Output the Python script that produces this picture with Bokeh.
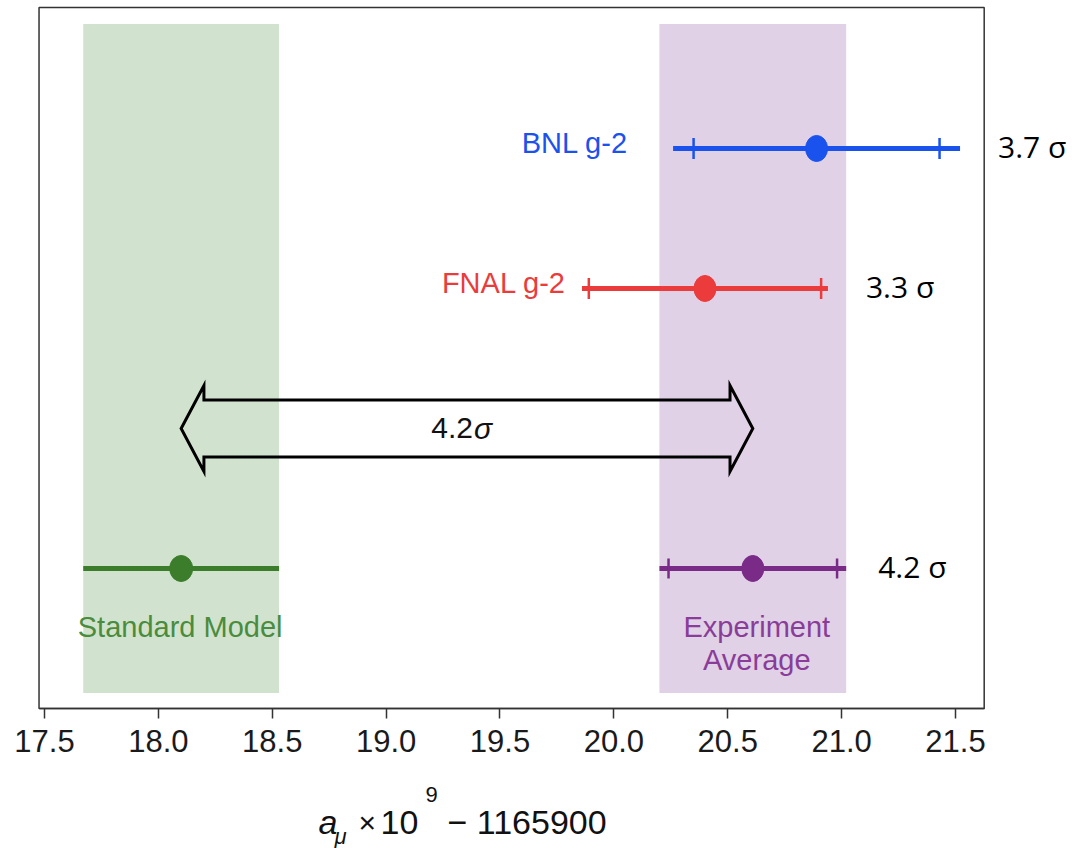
import numpy as np
from bokeh.plotting import figure
from bokeh.models import Range1d, FixedTicker, Label
from bokeh.embed import file_html
from bokeh.resources import INLINE

# ---- data (a_mu x 1e9 - 1165900) ----
exp_names = ["BNL g-2", "FNAL g-2"]
exp_rows = [3, 2]
exp_central = [20.89, 20.40]
exp_total = [0.63, 0.54]
exp_stat = [0.54, 0.51]
exp_sigma = ["3.7 σ", "3.3 σ"]
exp_colors = ["#1a52ee", "#ec3b3b"]

avg_name = ["Experiment", "Average"]
avg_row = 0
avg_central = 20.61
avg_total = 0.41
avg_stat = 0.37
avg_sigma = "4.2 σ"

sm_name = "Standard Model"
sm_row = 0
sm_central = 18.10
sm_total = 0.43

arrow_row = 1
tension_text = "4.2"

tick_values = [17.5, 18.0, 18.5, 19.0, 19.5, 20.0, 20.5, 21.0, 21.5]
tick_labels = ["17.5", "18.0", "18.5", "19.0", "19.5", "20.0", "20.5", "21.0", "21.5"]

# plot box (axis extent) and band extent
box_x = (17.476, 21.626)
box_y = (-1.0, 4.007)
band_bottom, band_top = -0.89, 3.89

GREEN, GREEN_TXT, GREEN_BAND = "#3b7d2a", "#4a8c3b", "#d1e3cf"
PURPLE, PURPLE_TXT, PURPLE_BAND = "#7a2a87", "#8a3d98", "#e1d1e7"
FRAME = "#333333"

W, H = 1077, 848
p = figure(frame_width=W, frame_height=H,
           x_range=Range1d(17.3068, 22.0357), y_range=Range1d(-2.0, 4.057),
           min_border=0, min_border_left=0, min_border_right=0, min_border_top=0,
           min_border_bottom=0, output_backend="svg", toolbar_location=None,
           background_fill_color="white", border_fill_color="white")
p.xgrid.visible = False
p.ygrid.visible = False
p.yaxis.visible = False
p.outline_line_color = None

ax = p.xaxis[0]
ax.fixed_location = box_y[0]
ax.bounds = box_x
ax.ticker = FixedTicker(ticks=tick_values)
ax.major_label_overrides = {v: s for v, s in zip(tick_values, tick_labels)}
ax.major_label_text_font = "Liberation Sans"
ax.major_label_text_font_size = "31px"
ax.major_label_text_color = "#1a1a1a"
ax.major_label_standoff = 12
ax.major_tick_in = 0
ax.major_tick_out = 10
ax.minor_tick_out = 0
ax.minor_tick_in = 0
ax.axis_line_color = FRAME
ax.axis_line_width = 1.5
ax.major_tick_line_color = FRAME
ax.major_tick_line_width = 1.5

# bands
p.quad(left=[sm_central - sm_total], right=[sm_central + sm_total],
       bottom=[band_bottom], top=[band_top], fill_color=GREEN_BAND, line_color=None)
p.quad(left=[avg_central - avg_total], right=[avg_central + avg_total],
       bottom=[band_bottom], top=[band_top], fill_color=PURPLE_BAND, line_color=None)

# plot box
p.quad(left=[box_x[0]], right=[box_x[1]], bottom=[box_y[0]], top=[box_y[1]],
       fill_color=None, line_color=FRAME, line_width=1.5)

# double arrow SM <-> average
hl, sh, hh = 0.10, 0.204, 0.307
x0, x1, yc = sm_central, avg_central, arrow_row
ax_pts = [x0, x0 + hl, x0 + hl, x1 - hl, x1 - hl, x1, x1 - hl, x1 - hl, x0 + hl, x0 + hl, x0]
ay_pts = [yc, yc + hh, yc + sh, yc + sh, yc + hh, yc, yc - hh, yc - sh, yc - sh, yc - hh, yc]
p.patch(ax_pts, ay_pts, fill_color=None, line_color="black", line_width=3, line_join="miter")

mid = (sm_central + avg_central) / 2
p.add_layout(Label(x=mid, y=arrow_row, x_offset=6, text=tension_text, text_align="right",
                   text_baseline="middle", text_font="Liberation Sans", text_font_size="30px",
                   text_color="#111111"))
p.add_layout(Label(x=mid, y=arrow_row, x_offset=7, text="σ", text_align="left",
                   text_baseline="middle", text_font="Liberation Sans", text_font_style="italic",
                   text_font_size="30px", text_color="#111111"))

# experiments
for name, row, c, tot, st, sig, col, lab_off in zip(exp_names, exp_rows, exp_central, exp_total,
                                                    exp_stat, exp_sigma, exp_colors, [-45, -16]):
    p.segment(x0=[c - tot], x1=[c + tot], y0=[row], y1=[row], line_color=col, line_width=5)
    p.scatter(x=[c - st, c + st], y=[row, row], marker="dash", angle=np.pi / 2, size=21,
              line_color=col, line_width=2.5)
    p.ellipse(x=[c], y=[row], width=22, height=26, width_units="screen", height_units="screen",
              fill_color=col, line_color=col)
    p.add_layout(Label(x=c - tot, y=row, x_offset=lab_off, y_offset=5, text=name, text_align="right",
                       text_baseline="middle", text_font="Liberation Sans", text_font_size="29px",
                       text_color=col))
    p.add_layout(Label(x=c + tot, y=row, x_offset=38, y_offset=2, text=sig, text_align="left",
                       text_baseline="middle", text_font="Open Sans", text_font_size="30px",
                       text_color="black"))

# experiment average
p.segment(x0=[avg_central - avg_total], x1=[avg_central + avg_total], y0=[avg_row], y1=[avg_row],
          line_color=PURPLE, line_width=5)
p.scatter(x=[avg_central - avg_stat, avg_central + avg_stat], y=[avg_row, avg_row], marker="dash",
          angle=np.pi / 2, size=20, line_color=PURPLE, line_width=2.5)
p.ellipse(x=[avg_central], y=[avg_row], width=22, height=26, width_units="screen",
          height_units="screen", fill_color=PURPLE, line_color=PURPLE)
p.add_layout(Label(x=avg_central + avg_total, y=avg_row, x_offset=32, y_offset=2, text=avg_sigma,
                   text_align="left", text_baseline="middle", text_font="Open Sans",
                   text_font_size="30px", text_color="black"))
for i, t in enumerate(avg_name):
    p.add_layout(Label(x=avg_central, y=avg_row, x_offset=4, y_offset=-59 - 33 * i, text=t,
                       text_align="center", text_baseline="middle", text_font="Liberation Sans",
                       text_font_size="29px", text_color=PURPLE_TXT))

# standard model
p.segment(x0=[sm_central - sm_total], x1=[sm_central + sm_total], y0=[sm_row], y1=[sm_row],
          line_color=GREEN, line_width=5)
p.ellipse(x=[sm_central], y=[sm_row], width=23, height=26, width_units="screen",
          height_units="screen", fill_color=GREEN, line_color=GREEN)
p.add_layout(Label(x=sm_central, y=sm_row, x_offset=-1, y_offset=-59, text=sm_name,
                   text_align="center", text_baseline="middle", text_font="Liberation Sans",
                   text_font_size="29px", text_color=GREEN_TXT))

# axis title  a_mu x 10^9 - 1165900 (composed from text pieces)
ref_x, ref_y = tick_values[0], box_y[0]
pieces = [
    ("a", 274, -114, "34px", "italic"),
    ("μ", 290, -128, "22px", "italic"),
    ("×", 314, -114, "30px", "normal"),
    ("10", 336, -114, "34px", "normal"),
    ("9", 381, -86, "22px", "normal"),
    ("− 1165900", 403, -114, "34px", "normal"),
]
for txt, xo, yo, fs, st in pieces:
    p.add_layout(Label(x=ref_x, y=ref_y, x_offset=xo, y_offset=yo, text=txt, text_align="left",
                       text_baseline="alphabetic", text_font="Liberation Sans", text_font_size=fs,
                       text_font_style=st, text_color="#111111"))

open("out.html", "w").write(file_html(p, INLINE))
